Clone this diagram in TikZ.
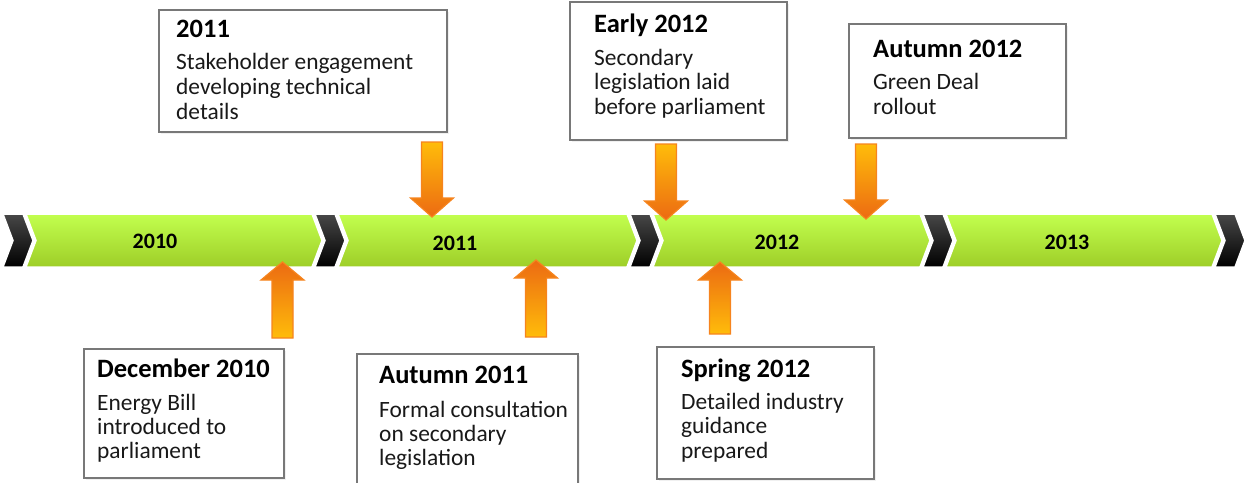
\documentclass[tikz,border=0pt]{standalone}
\usepackage{fontspec}
\setmainfont{Carlito}
\usetikzlibrary{shadows}
\definecolor{gtop}{RGB}{194,255,78}
\definecolor{gbot}{RGB}{158,206,40}
\definecolor{ktop}{RGB}{72,72,72}
\definecolor{kbot}{RGB}{0,0,0}
\definecolor{aylw}{RGB}{255,188,10}
\definecolor{aorg}{RGB}{236,106,18}
\definecolor{aline}{RGB}{246,132,30}
\definecolor{boxline}{RGB}{120,120,120}
\tikzset{
  greenseg/.style={top color=gtop,bottom color=gbot,draw=white,line width=1.5pt},
  blackseg/.style={top color=ktop,bottom color=kbot,draw=white,line width=1.5pt},
  yearlbl/.style={font=\fontsize{22}{26}\selectfont\bfseries,inner sep=0pt},
  tlbox/.style={draw=boxline,line width=1.6pt,fill=white,inner sep=0pt,anchor=north west,
    drop shadow={opacity=0.12,shadow xshift=2pt,shadow yshift=-2pt}},
  ttl/.style={font=\fontsize{26.5}{30}\selectfont\bfseries,anchor=base west,inner sep=0pt},
  bdy/.style={font=\fontsize{23.4}{25}\selectfont,anchor=base west,inner sep=0pt,text=black!90},
  downarr/.style={draw=aline,line width=1.2pt,top color=aylw,bottom color=aorg},
  uparr/.style={draw=aline,line width=1.2pt,top color=aorg,bottom color=aylw},
}
% chevron: #1 style, #2 left x, #3 right x
\newcommand{\chevshape}[3]{%
  \path[#1] (#2,214) -- (#3,214) -- ({#3+10},240.5) -- (#3,267) -- (#2,267) -- ({#2+10},240.5) -- cycle;}
% down arrow: #1 centre x, #2 top, #3 head base, #4 tip
\newcommand{\darrow}[4]{%
  \path[downarr] ({#1-10.5},#2) -- ({#1+10.5},#2) -- ({#1+10.5},#3) -- ({#1+21.5},#3) -- (#1,#4)
    -- ({#1-21.5},#3) -- ({#1-10.5},#3) -- cycle;}
% up arrow: #1 centre x, #2 tip, #3 head base, #4 bottom
\newcommand{\uarrow}[4]{%
  \path[uparr] (#1,#2) -- ({#1+21.5},#3) -- ({#1+10.5},#3) -- ({#1+10.5},#4) -- ({#1-10.5},#4)
    -- ({#1-10.5},#3) -- ({#1-21.5},#3) -- cycle;}
\begin{document}
\begin{tikzpicture}[x=1pt,y=-1pt]
\useasboundingbox (0,0) rectangle (1244,482);
\clip (0,0) rectangle (1244,482);
% timeline band
\chevshape{blackseg}{3}{23}
\chevshape{greenseg}{26}{312}
\chevshape{blackseg}{315}{335}
\chevshape{greenseg}{338}{627}
\chevshape{blackseg}{630}{650}
\chevshape{greenseg}{653}{920}
\chevshape{blackseg}{923}{943}
\chevshape{greenseg}{946}{1212}
\chevshape{blackseg}{1215}{1235}
\node[yearlbl] (y2010) at (155,241) {2010};
\node[yearlbl] (y2011) at (455,243) {2011};
\node[yearlbl] (y2012) at (777,242) {2012};
\node[yearlbl] (y2013) at (1067,242) {2013};
% arrows
\darrow{432}{142}{198}{217}
\darrow{666}{144}{201}{220}
\darrow{866}{144}{200}{219}
\uarrow{282.5}{262}{280}{338}
\uarrow{536}{260}{278}{337}
\uarrow{720}{262}{280}{334}
% boxes (top)
\node[tlbox,minimum width=288pt,minimum height=122pt] (b2011) at (158,9) {};
\node[ttl] (b2011t) at (176,37) {2011};
\node[bdy] (b2011a) at (176,69) {Stakeholder engagement};
\node[bdy] (b2011b) at (176,94) {developing technical};
\node[bdy] (b2011c) at (176,119) {details};
\node[tlbox,minimum width=217pt,minimum height=138pt] (be12) at (569,1) {};
\node[ttl] (be12t) at (594,32) {Early 2012};
\node[bdy] (be12a) at (594,65) {Secondary};
\node[bdy] (be12b) at (594,89.5) {legislation laid};
\node[bdy] (be12c) at (594,114) {before parliament};
\node[tlbox,minimum width=217pt,minimum height=114pt] (ba12) at (848,23) {};
\node[ttl] (ba12t) at (873,57) {Autumn 2012};
\node[bdy] (ba12a) at (873,89) {Green Deal};
\node[bdy] (ba12b) at (873,114) {rollout};
% boxes (bottom)
\node[tlbox,minimum width=200pt,minimum height=129pt] (bd10) at (83,348) {};
\node[ttl] (bd10t) at (97,377) {December 2010};
\node[bdy] (bd10a) at (97,410) {Energy Bill};
\node[bdy] (bd10b) at (97,434) {introduced to};
\node[bdy] (bd10c) at (97,458) {parliament};
\node[tlbox,minimum width=221pt,minimum height=140pt] (ba11) at (356,353) {};
\node[ttl] (ba11t) at (379,383) {Autumn 2011};
\node[bdy] (ba11a) at (379,417) {Formal consultation};
\node[bdy] (ba11b) at (379,441) {on secondary};
\node[bdy] (ba11c) at (379,465) {legislation};
\node[tlbox,minimum width=217pt,minimum height=132pt] (bs12) at (656,346) {};
\node[ttl] (bs12t) at (681,377) {Spring 2012};
\node[bdy] (bs12a) at (681,409) {Detailed industry};
\node[bdy] (bs12b) at (681,433) {guidance};
\node[bdy] (bs12c) at (681,458) {prepared};
\end{tikzpicture}
\end{document}
